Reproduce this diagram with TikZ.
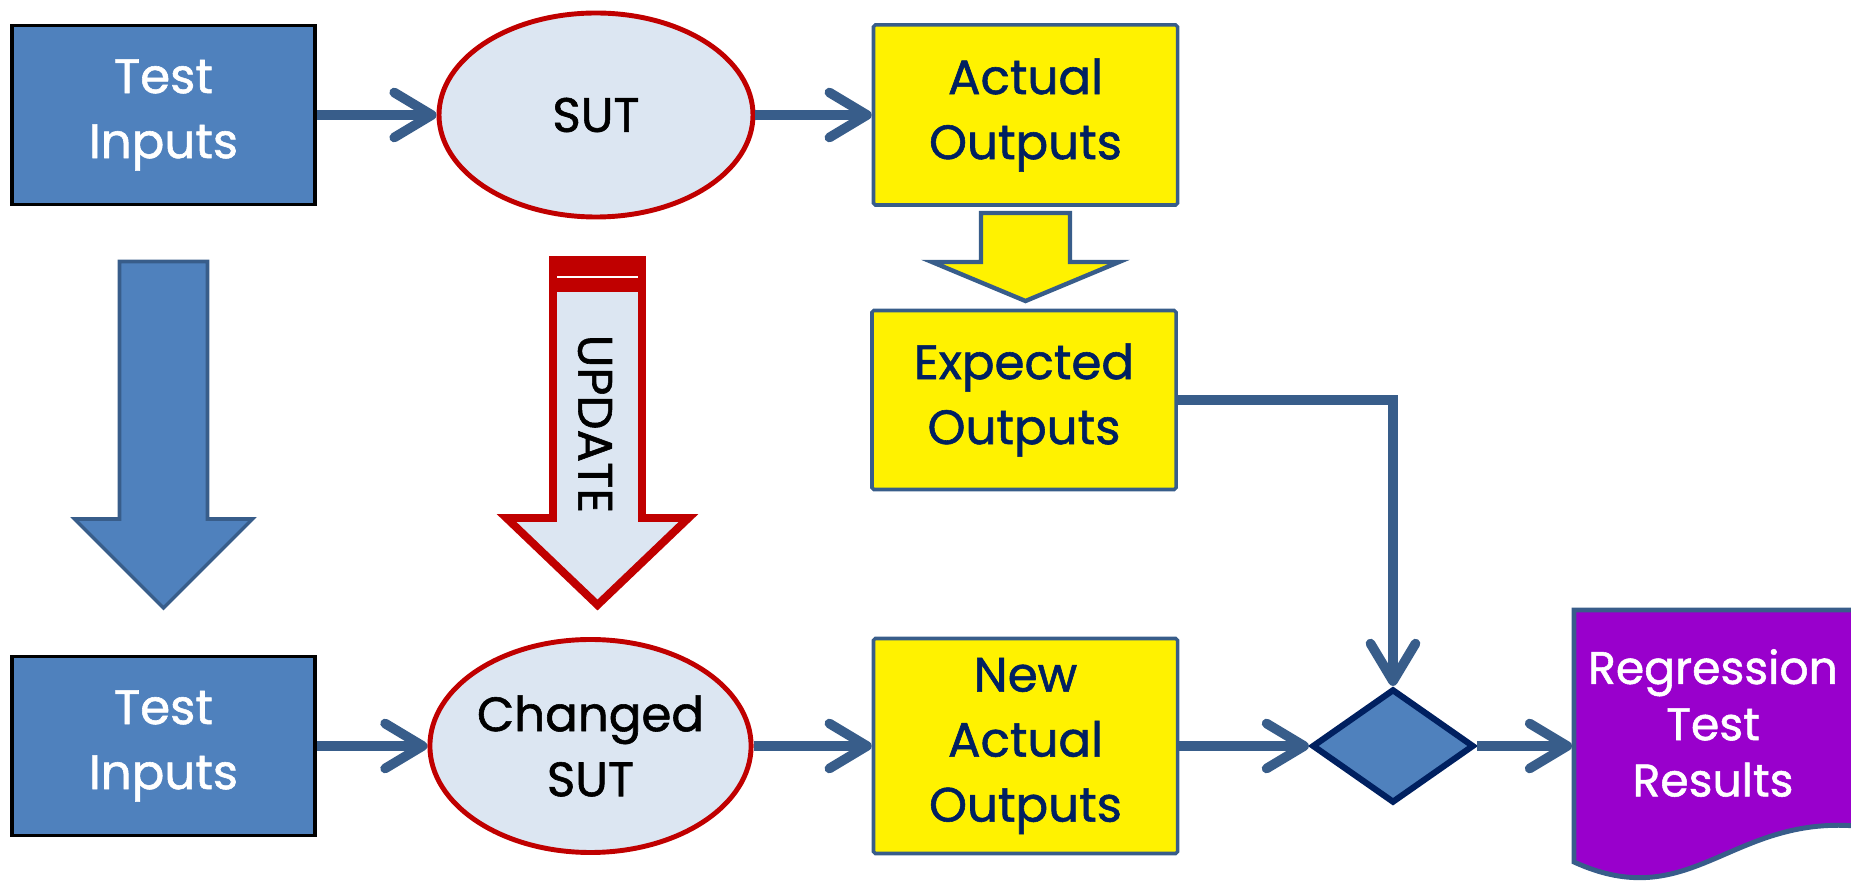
\documentclass[tikz,border=0pt]{standalone}
\usepackage{fontspec}
\setmainfont{Poppins}[FakeBold=1.2]
\usepackage{tikz}
\usetikzlibrary{arrows.meta,shapes.geometric}

\definecolor{boxblue}{RGB}{79,129,189}
\definecolor{linkblue}{RGB}{56,93,138}
\definecolor{sutfill}{RGB}{220,230,242}
\definecolor{sutred}{RGB}{192,0,0}
\definecolor{navy}{RGB}{0,32,96}
\definecolor{docpurple}{RGB}{153,0,204}

\begin{document}
\begin{tikzpicture}[->,>={Straight Barb[round,length=7.5mm,width=9mm]},
                    line width=5.5pt,draw=linkblue,
                    font=\fontsize{27.5}{37}\selectfont]
  \tikzstyle{inbox}=[rectangle,draw=black,line width=2pt,fill=boxblue,text=white,
                     align=center,minimum width=6.06cm,minimum height=3.58cm]
  \tikzstyle{sut}=[ellipse,draw=sutred,line width=2.8pt,fill=sutfill,text=black,
                   align=center,inner sep=0pt,minimum width=6.28cm]
  \tikzstyle{outbox}=[rectangle,draw=linkblue,line width=2pt,rounded corners=1pt,
                      fill=yellow,text=navy,align=center,minimum width=6.08cm]
  \tikzstyle{decision}=[diamond,draw=navy,line width=3.5pt,fill=boxblue,inner sep=0pt,
                        minimum width=3.24cm,minimum height=2.28cm]
  \tikzstyle{every edge}=[draw=linkblue,line width=5.5pt]

  \useasboundingbox (0,0) rectangle (37.02,-17.68);

  % block arrows and the report shape
  \draw[-,draw=linkblue,line width=2pt,fill=boxblue]
    (2.39,-5.23) -- (4.15,-5.23) -- (4.15,-10.38) -- (5.05,-10.38) -- (3.27,-12.16)
    -- (1.49,-10.38) -- (2.39,-10.38) -- cycle;
  \draw[-,draw=linkblue,line width=2.5pt,fill=yellow]
    (19.62,-4.26) -- (21.40,-4.26) -- (21.40,-5.24) -- (22.38,-5.24) -- (20.51,-6.02)
    -- (18.64,-5.24) -- (19.62,-5.24) -- cycle;
  \draw[-,draw=sutred,line width=4.5pt,fill=sutfill]
    (11.06,-5.20) -- (12.84,-5.20) -- (12.84,-10.36) -- (13.77,-10.36) -- (11.95,-12.10)
    -- (10.13,-10.36) -- (11.06,-10.36) -- cycle;
  \fill[sutred] (10.98,-5.12) rectangle (12.92,-5.84);
  \draw[-,white,line width=1.5pt] (11.14,-5.54) -- (12.76,-5.54);
  \draw[-,draw=linkblue,line width=2.8pt,fill=docpurple]
    (31.48,-12.20) -- (37.12,-12.20) -- (37.12,-16.52)
    .. controls (34.6,-16.32) and (33.8,-18.3) .. (31.48,-17.24) -- cycle;

  \node (upd) [rotate=-90,text=black] at (11.90,-8.48) {UPDATE};

  \node[inbox] (in1) at (3.27,-2.30) {Test\\Inputs};
  \node[sut,minimum height=4.08cm] (sut) at (11.92,-2.30) {SUT};
  \node[outbox,minimum height=3.60cm] (act) at (20.51,-2.30) {Actual\\Outputs};
  \node[outbox,minimum height=3.58cm] (exp) at (20.48,-8.00) {Expected\\Outputs};

  \node[inbox] (in2) at (3.27,-14.92) {Test\\Inputs};
  \node[sut,minimum height=4.26cm] (csut) at (11.81,-14.92) {Changed\\SUT};
  \node[outbox,minimum height=4.30cm] (nact) at (20.51,-14.92) {New\\Actual\\Outputs};
  \node[decision] (dia) at (27.86,-14.92) {};
  \node (res) [minimum width=5.64cm,minimum height=5.44cm,outer sep=0pt] at (34.26,-14.92) {};
  \node (restext) [text=white,align=center,font=\fontsize{26}{32}\selectfont]
    at ([yshift=4.6mm]res.center) {Regression\\Test\\Results};

  \path
(in1) edge (sut)
(sut) edge (act)
(in2) edge (csut)
(csut) edge (nact)
(nact) edge (dia)
(dia) edge (res)
(exp) edge [to path={-| (\tikztotarget)}] (dia)
;

\end{tikzpicture}
\end{document}
